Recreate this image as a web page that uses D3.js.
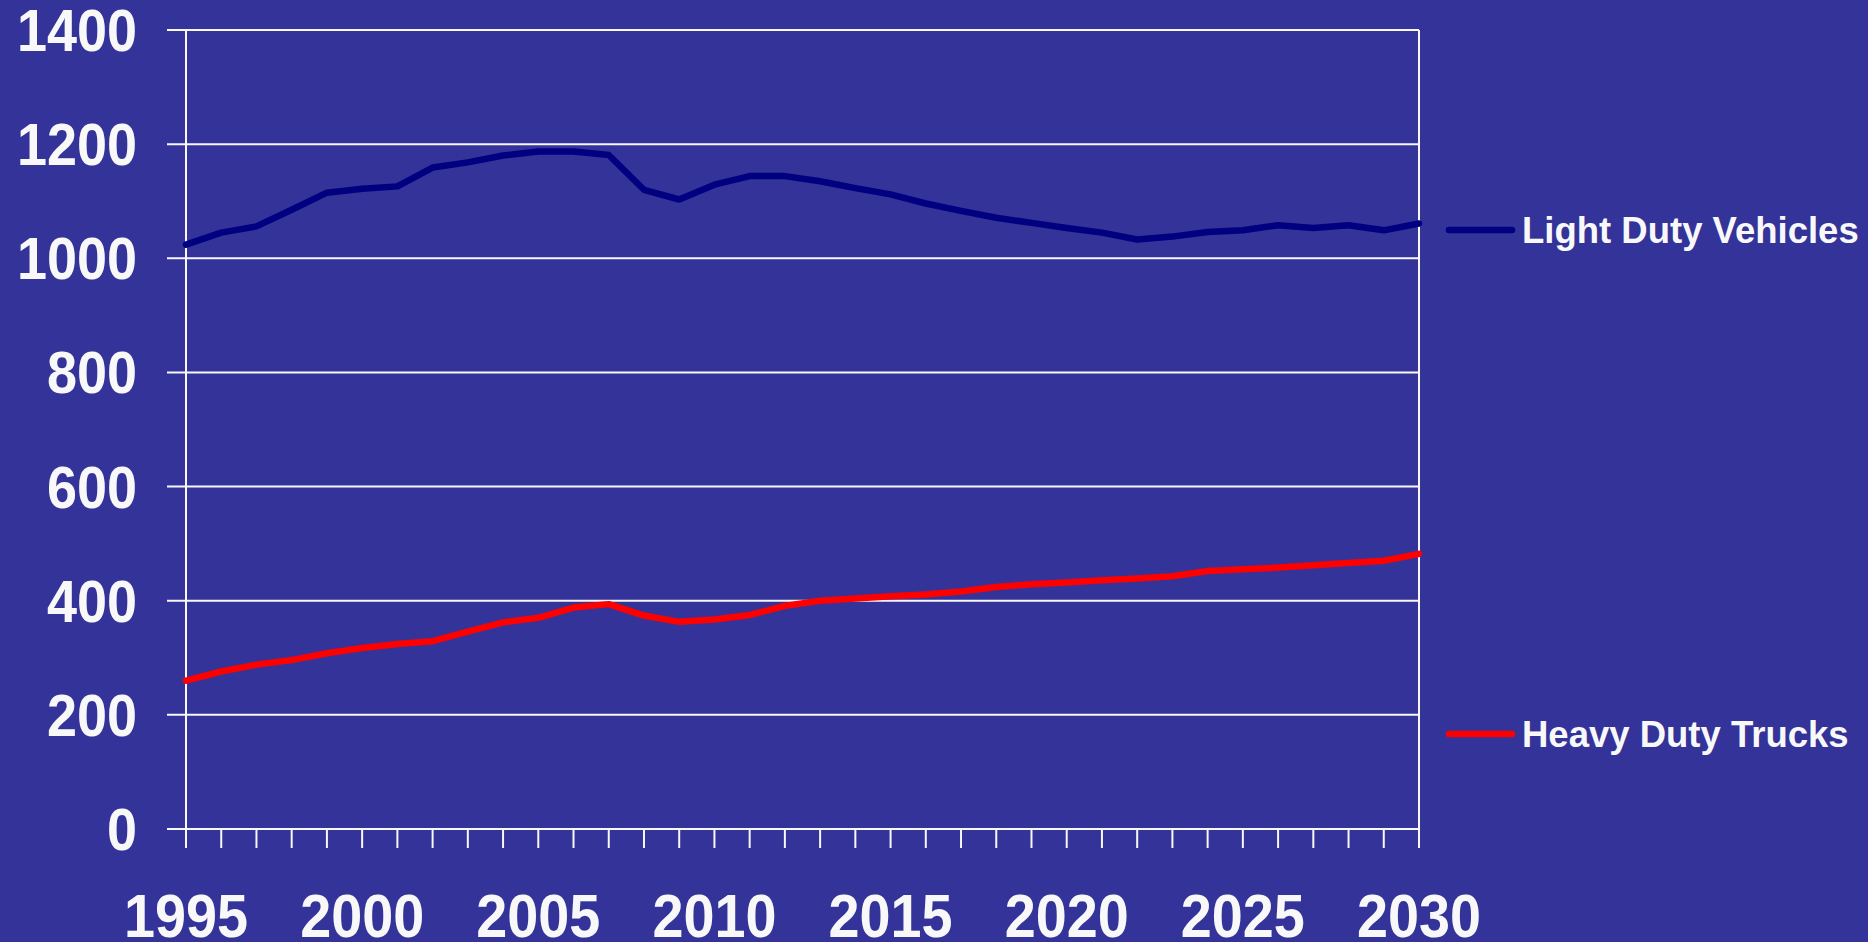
<!DOCTYPE html>
<html><head><meta charset="utf-8">
<script src="https://cdn.jsdelivr.net/npm/d3@7"></script>
<style>html,body{margin:0;padding:0;background:#333399;overflow:hidden}</style>
</head><body>
<svg id="c" width="1868" height="942"></svg>
<script>
const years = d3.range(1995, 2031);
const lightDuty = [1024,1045,1056,1085,1115,1122,1126,1159,1168,1180,1187,1187,1181,1120,1103,
  1129,1144,1144,1135,1123,1112,1096,1083,1071,1062,1053,1045,1033,1038,1046,1049,1058,1053,1058,1049,1061];
const heavyDuty = [260,276,288,296,308,317,324,329,346,362,370,388,394,374,363,
  367,375,391,400,404,408,411,416,424,429,432,436,439,443,452,455,458,462,466,470,482];
const seriesNames = ["Light Duty Vehicles", "Heavy Duty Trucks"];
const yTicks = [0,200,400,600,800,1000,1200,1400];
const xLabels = [1995,2000,2005,2010,2015,2020,2025,2030];

const svg = d3.select("#c");
const W = 1868, H = 942;
svg.append("rect").attr("width", W).attr("height", H).attr("fill", "#333399");

const x = d3.scaleLinear().domain([1995, 2030]).range([186, 1419]);
const y = d3.scaleLinear().domain([0, 1400]).range([829, 30]);
const white = "#f8f8f8";

svg.append("g").selectAll("line").data(yTicks).join("line")
  .attr("x1", x(1995) - 19).attr("x2", x(2030))
  .attr("y1", d => y(d)).attr("y2", d => y(d))
  .attr("stroke", white).attr("stroke-width", 2);
svg.append("line").attr("x1", x(1995)).attr("x2", x(1995)).attr("y1", y(1400)).attr("y2", y(0) + 19)
  .attr("stroke", white).attr("stroke-width", 2);
svg.append("line").attr("x1", x(2030)).attr("x2", x(2030)).attr("y1", y(1400)).attr("y2", y(0))
  .attr("stroke", white).attr("stroke-width", 2);
svg.append("g").selectAll("line").data(years).join("line")
  .attr("x1", d => x(d)).attr("x2", d => x(d))
  .attr("y1", y(0)).attr("y2", y(0) + 19)
  .attr("stroke", white).attr("stroke-width", 2);

const font = "'Liberation Sans', Arial, sans-serif";
svg.append("g").selectAll("text").data(yTicks).join("text")
  .attr("x", 137).attr("y", d => y(d) + 21)
  .attr("text-anchor", "end")
  .attr("font-family", font).attr("font-weight", "bold").attr("font-size", 60)
  .attr("fill", white)
  .attr("textLength", d => String(d).length * 30).attr("lengthAdjust", "spacingAndGlyphs")
  .text(d => d);
svg.append("g").selectAll("text").data(xLabels).join("text")
  .attr("x", d => x(d)).attr("y", 937)
  .attr("text-anchor", "middle")
  .attr("font-family", font).attr("font-weight", "bold").attr("font-size", 61)
  .attr("fill", white)
  .attr("textLength", 124).attr("lengthAdjust", "spacingAndGlyphs")
  .text(d => d);

const line = d3.line().x((d, i) => x(years[i])).y(d => y(d));
const colors = ["#000080", "#ff0000"];
[lightDuty, heavyDuty].forEach((s, k) => {
  svg.append("path").datum(s).attr("d", line)
    .attr("fill", "none").attr("stroke", colors[k]).attr("stroke-width", 6.5)
    .attr("stroke-linejoin", "round").attr("stroke-linecap", "round");
});

const legY = [230, 734];
seriesNames.forEach((n, k) => {
  svg.append("line").attr("x1", 1449).attr("x2", 1512).attr("y1", legY[k]).attr("y2", legY[k])
    .attr("stroke", colors[k]).attr("stroke-width", 6.5).attr("stroke-linecap", "round");
  svg.append("text").attr("x", 1522).attr("y", legY[k] + 13)
    .attr("font-family", font).attr("font-weight", "bold").attr("font-size", 36.5)
    .attr("fill", white).text(n);
});
</script>
</body></html>
